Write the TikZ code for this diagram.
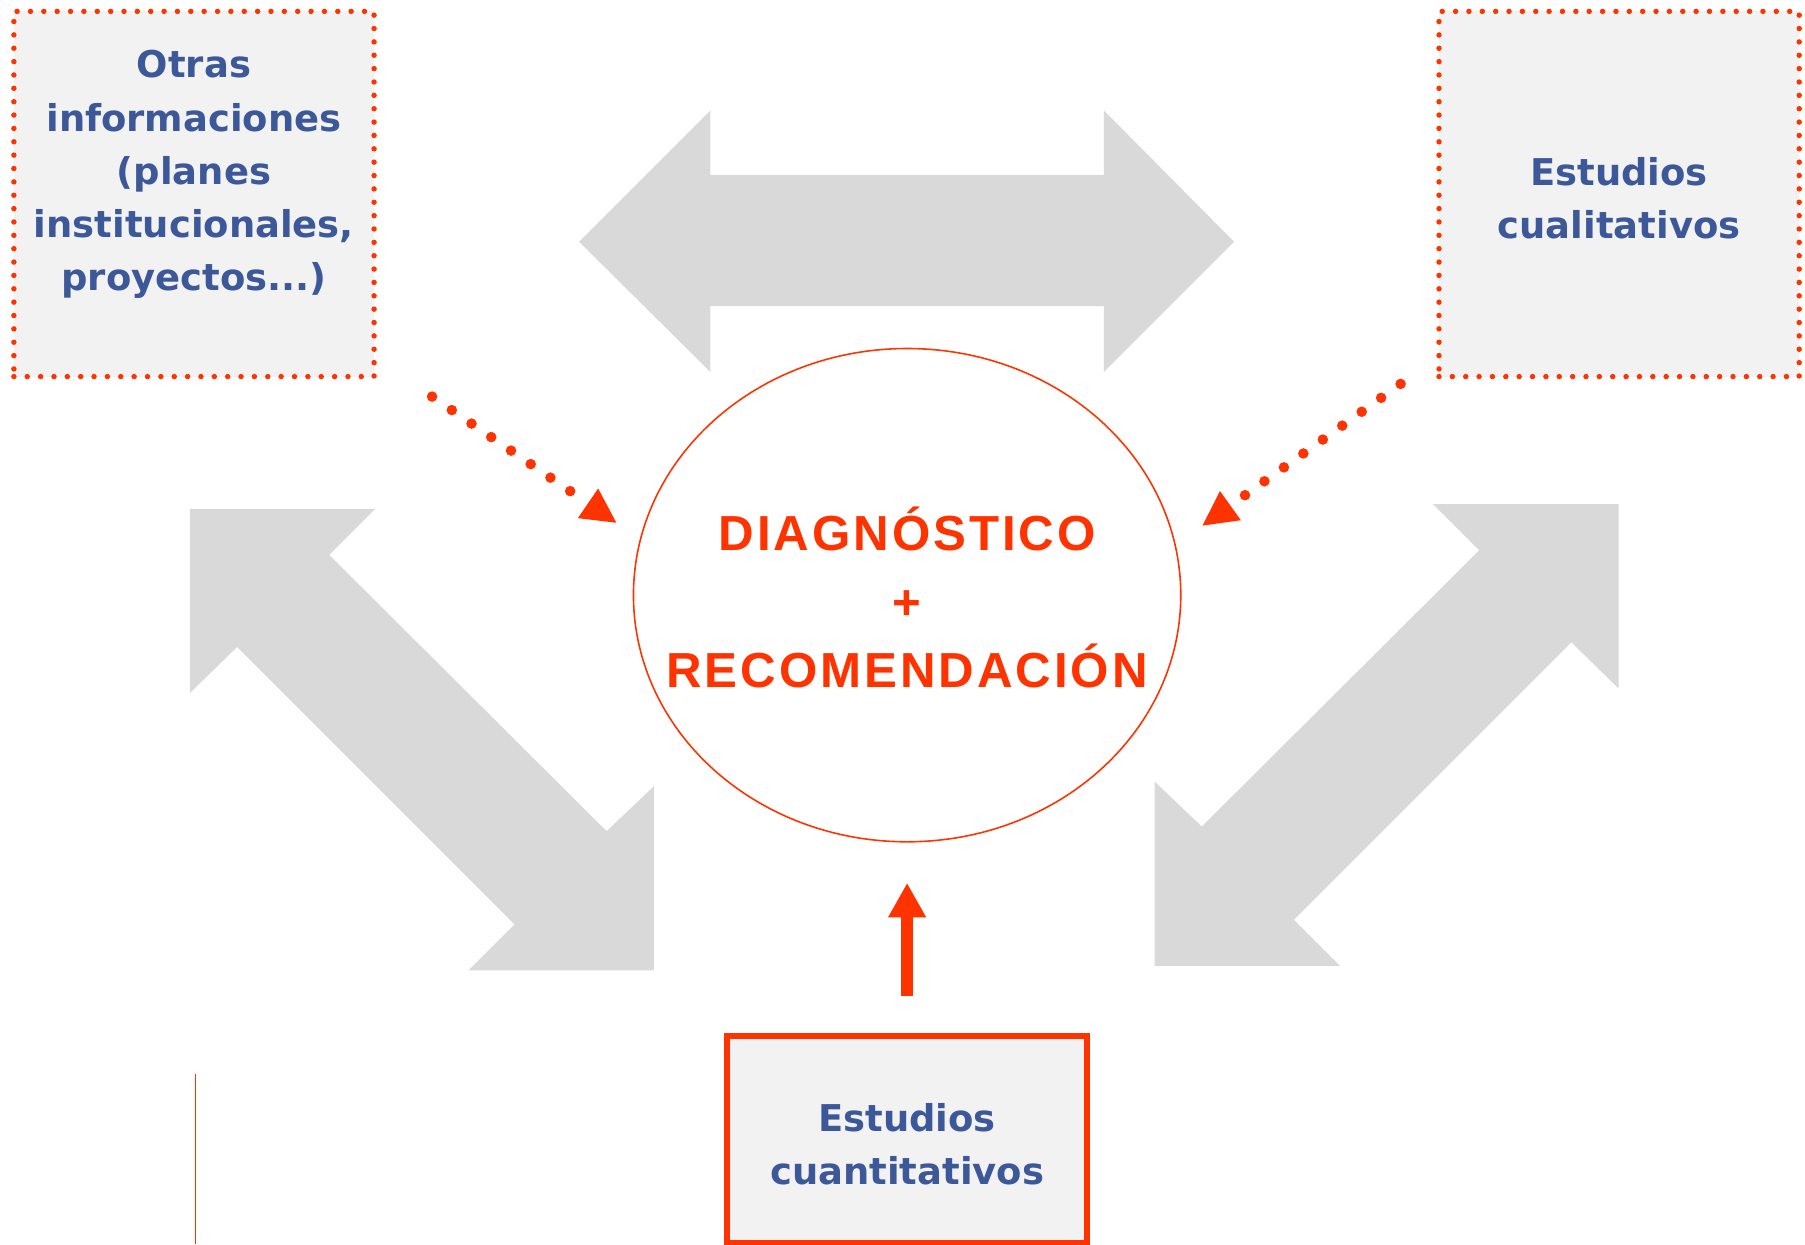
\documentclass[tikz,border=0pt]{standalone}
\usepackage{fontspec}
\setmainfont{Liberation Sans}
\newfontfamily\cajafont{DejaVu Sans}
\newfontfamily\diagfont[LetterSpace=6]{Liberation Sans}
\usetikzlibrary{shapes,arrows.meta,positioning,calc}

\definecolor{rojo}{HTML}{FF3300}
\definecolor{azul}{HTML}{3D5898}
\definecolor{gris}{HTML}{D9D9D9}
\definecolor{fondo}{HTML}{F2F2F2}

\tikzset{
  caja/.style={rectangle,fill=fondo,align=center,text=azul,inner sep=0pt,
    font={\cajafont\bfseries\fontsize{10.5pt}{15.1pt}\selectfont},
    minimum width=3.60cm,minimum height=3.65cm},
  punteada/.style={draw=rojo,line width=1.55pt,line cap=round,dash pattern=on 0pt off 3.8pt},
  circulo/.style={ellipse,draw=rojo,line width=0.45pt,fill=white,inner sep=0pt,
    minimum width=5.47cm,minimum height=4.93cm},
  diagtexto/.style={align=center,text=rojo,font={\diagfont\bfseries\fontsize{14pt}{19.6pt}\selectfont}},
  puntos/.style={draw=rojo,line width=3pt,line cap=round,dash pattern=on 0pt off 6.8pt,
    -{Triangle[length=10pt,width=9.4pt]}},
  grueso/.style={draw=rojo,line width=3.26pt,-{Triangle[length=9.8pt,width=10.1pt]}}
}

\begin{document}
\begin{tikzpicture}[x=0.011512cm,y=-0.011512cm]
\useasboundingbox (0,0) rectangle (1568,1081);

% flechas grises
\fill[gris] (503,210) -- (617,96) -- (617,152) -- (959,152) -- (959,96) -- (1072,210)
  -- (959,323) -- (959,266) -- (617,266) -- (617,323) -- cycle;
\fill[gris] (165,442) -- (326,442) -- (286,482) -- (527,722) -- (568,683) -- (568,843)
  -- (407,843) -- (447,803) -- (206,562) -- (165,602) -- cycle;
\fill[gris] (1406,438) -- (1245,438) -- (1285,478) -- (1044,718) -- (1003,679) -- (1003,839)
  -- (1164,839) -- (1124,799) -- (1365,558) -- (1406,598) -- cycle;

\node[caja,punteada,text depth=13.4pt](otras) at (168.5,168.5)
  {Otras\\informaciones\\(planes\\institucionales,\\proyectos...)};
\node[caja,punteada,text height=25.7pt](cualit) at (1406.5,168.5) {Estudios\\cualitativos};
\node[caja,draw=rojo,line width=1.83pt,minimum height=2.07cm,text height=25.7pt](cuantit) at (788,990)
  {Estudios\\cuantitativos};

\node[circulo](diag) at (788,517) {};
\node[diagtexto](diagtxt) at (788,519) {DIAGNÓSTICO\\+\\RECOMENDACIÓN};

\draw[puntos] ($(otras.south east)+(48,15)$) -- ($(diag.center)+(-252,-62.5)$);
\draw[puntos] ($(cualit.south west)+(-31,4)$) -- ($(diag.center)+(256,-60)$);
\draw[grueso] ($(cuantit.north)+(0,-32)$) -- ($(diag.south)+(0,35)$);

\coordinate (raya1) at (170,933);
\coordinate (raya2) at (170,1081);
\draw[rojo,line width=0.35pt] (raya1) -- (raya2);
\end{tikzpicture}
\end{document}
